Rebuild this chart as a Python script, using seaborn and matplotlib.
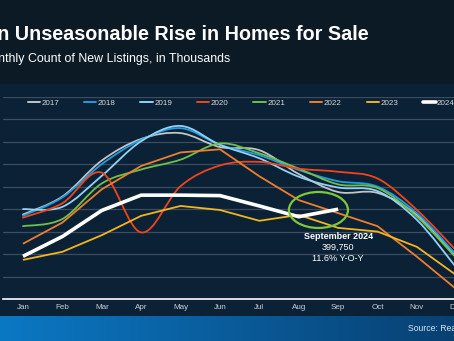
import numpy as np
import pandas as pd
import matplotlib
matplotlib.use("Agg")
import matplotlib.pyplot as plt
from matplotlib.path import Path
from matplotlib.patches import PathPatch, Ellipse, Rectangle
from matplotlib.lines import Line2D
import seaborn as sns

# ---- data: monthly count of new listings (thousands) ----
months = ["Jan", "Feb", "Mar", "Apr", "May", "Jun",
          "Jul", "Aug", "Sep", "Oct", "Nov", "Dec"]
listings_2017 = [388, 428, 508, 556, 569, 538, 531, 478, 438, 436, 387, 294]
listings_2018 = [385, 426, 500, 554, 580, 543, 520, 487, 462, 450, 391, 298]
listings_2019 = [400, 405, 474, 551, 585, 543, 513, 472, 448, 440, 376, 270]
listings_2020 = [381, 413, 481, 348, 451, 497, 505, 490, 483, 468, 398, 308]
listings_2021 = [362, 378, 457, 488, 510, 546, 524, 490, 455, 447, 383, 291]
listings_2022 = [323, 370, 444, 496, 526, 533, 473, 420, 391, 362, 294, 222]
listings_2023 = [287, 305, 342, 385, 407, 398, 374, 387, 358.2, 350, 316, 253]
listings_2024 = [295, 339, 397, 431, 431, 430, 407, 383, 399.75]

series = {
    "2017": listings_2017, "2018": listings_2018, "2019": listings_2019,
    "2020": listings_2020, "2021": listings_2021, "2022": listings_2022,
    "2023": listings_2023, "2024": listings_2024,
}
colors = {
    "2017": "#c4c4c4", "2018": "#1f9de2", "2019": "#93d2f4",
    "2020": "#f2441a", "2021": "#6fc04b", "2022": "#ee7f2d",
    "2023": "#f3b61f", "2024": "#ffffff",
}
smooth_years = ["2017", "2018", "2019", "2021", "2020"]
straight_years = ["2022", "2023", "2024"]

W, H = 454, 341
BG_TOP = "#0c1a26"
BG_PANEL = "#0b2135"
GRID = "#3b4d5e"
TICK = "#c9d1d9"

sns.set_theme(style="dark")
plt.rcParams["font.family"] = ["Liberation Sans", "DejaVu Sans"]

fig = plt.figure(figsize=(W / 100, H / 100), dpi=100, facecolor=BG_TOP)

# darker-blue chart panel behind the plot
fig.patches.append(Rectangle((0, (H - 316) / H), 1, (316 - 84) / H,
                             transform=fig.transFigure, color=BG_PANEL, zorder=-5))

# blue gradient footer band
bax = fig.add_axes([0, 0, 1, 25 / H])
c0 = np.array([0x0b, 0x78, 0xc4]) / 255
c1 = np.array([0x08, 0x40, 0x72]) / 255
t = np.linspace(0, 1, 256)[None, :, None]
grad = c0 * (1 - t) + c1 * t
bax.imshow(grad, aspect="auto", extent=[0, 1, 0, 1])
bax.axis("off")

# main plotting axes (extends slightly past the right edge)
ax = fig.add_axes([3.3 / W, 42 / H, 472.7 / W, 202.3 / H])
ax.set_zorder(2)
ax.set_facecolor("none")
ax.set_xlim(-0.5, 11.5)
ax.set_ylim(200, 650)
ax.set_yticks(np.arange(250, 651, 50))
ax.yaxis.grid(True, color=GRID, lw=0.9)
ax.xaxis.grid(False)
ax.tick_params(axis="y", length=0, labelleft=False)
ax.set_xticks(range(12))
ax.set_xticklabels(months)
ax.tick_params(axis="x", length=0, pad=3.6, labelsize=5.8, labelcolor=TICK)
for side in ["top", "left", "right"]:
    ax.spines[side].set_visible(False)
ax.spines["bottom"].set_color("white")
ax.spines["bottom"].set_linewidth(1.2)


def smooth_path(ys):
    """Catmull-Rom style Bezier path through the monthly points."""
    pts = np.column_stack([np.arange(len(ys)), np.asarray(ys, float)])
    ext = np.vstack([pts[0], pts, pts[-1]])
    verts = [tuple(pts[0])]
    codes = [Path.MOVETO]
    for i in range(len(pts) - 1):
        p0, p1, p2, p3 = ext[i], ext[i + 1], ext[i + 2], ext[i + 3]
        verts += [tuple(p1 + (p2 - p0) / 6), tuple(p2 - (p3 - p1) / 6), tuple(p2)]
        codes += [Path.CURVE4] * 3
    return Path(verts, codes)


for yr in smooth_years:
    ax.add_patch(PathPatch(smooth_path(series[yr]), fill=False,
                           edgecolor=colors[yr], lw=1.3, zorder=3,
                           capstyle="round", joinstyle="round"))

for yr in straight_years:
    vals = series[yr]
    df = pd.DataFrame({"month": np.arange(len(vals)), "listings": vals})
    sns.lineplot(data=df, x="month", y="listings", ax=ax, color=colors[yr],
                 lw=2.6 if yr == "2024" else 1.3, zorder=5 if yr == "2024" else 4,
                 legend=False, solid_capstyle="butt")
ax.set_xlabel("")
ax.set_ylabel("")
ax.set_xlim(-0.5, 11.5)
ax.set_ylim(200, 650)

# highlight circle around the latest reading
ax.add_patch(Ellipse((7.5, 398), width=1.5, height=80, fill=False,
                     edgecolor="#7cc83a", lw=1.6, zorder=6))

sep_2024 = listings_2024[8]
yoy = (sep_2024 / listings_2023[8] - 1) * 100
ax.text(8, 338.5, "September 2024", color="white", fontsize=6.5,
        fontweight="bold", ha="center", va="center")
ax.text(8, 314, f"{int(round(sep_2024 * 1000)):,}", color="white",
        fontsize=6.5, ha="center", va="center")
ax.text(8, 290.5, f"{yoy:.1f}% Y-O-Y", color="white", fontsize=6.5,
        ha="center", va="center")

# legend row across the top band
handles = [Line2D([0], [0], color=colors[yr], lw=2.6 if yr == "2024" else 1.4)
           for yr in series]
fig.legend(handles, list(series.keys()), ncol=8, loc="center left",
           bbox_to_anchor=(27.5 / W, 1 - 103.5 / H), frameon=False,
           fontsize=5.8, handlelength=1.55, handletextpad=0.15,
           columnspacing=3.1, borderpad=0, borderaxespad=0,
           labelcolor="#d9d9d9")

# titles and source
fig.text(369 / W, 1 - 40 / H, "An Unseasonable Rise in Homes for Sale",
         color="white", fontsize=14.2, fontweight="bold",
         ha="right", va="baseline")
fig.text(230 / W, 1 - 62 / H, "Monthly Count of New Listings, in Thousands",
         color="white", fontsize=8.95, ha="right", va="baseline")
fig.text(408 / W, 1 - 328.5 / H, "Source: Realtor.com", color="#dce6ee",
         fontsize=6.2, ha="left", va="center")

fig.savefig("out.png", dpi=100, facecolor=fig.get_facecolor())
